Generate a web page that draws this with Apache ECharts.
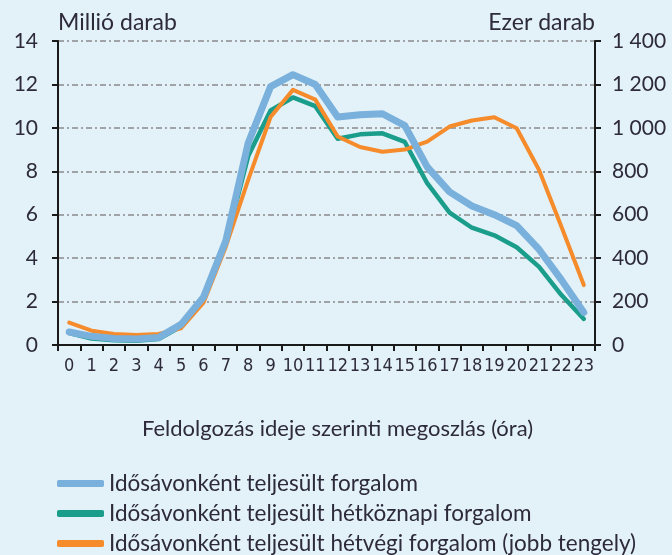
<!DOCTYPE html>
<html>
<head>
<meta charset="utf-8">
<script src="https://cdn.jsdelivr.net/npm/echarts@6/dist/echarts.min.js"></script>
<style>
  html, body { margin: 0; padding: 0; background: #e3f1f8; }
  #main { width: 672px; height: 555px; }
</style>
</head>
<body>
<div id="main"></div>
<script>
const hours = ['0', '1', '2', '3', '4', '5', '6', '7', '8', '9', '10', '11',
    '12', '13', '14', '15', '16', '17', '18', '19', '20', '21', '22', '23'];

// millió darab (bal tengely)
const total = [0.6, 0.4, 0.3, 0.28, 0.35, 0.95, 2.2, 4.8, 9.3, 11.9, 12.45, 12.0,
    10.5, 10.6, 10.65, 10.1, 8.2, 7.05, 6.4, 6.0, 5.5, 4.4, 3.0, 1.5];
const weekday = [0.55, 0.3, 0.22, 0.2, 0.28, 0.85, 2.1, 4.7, 8.7, 10.8, 11.4, 11.0,
    9.5, 9.7, 9.75, 9.35, 7.45, 6.1, 5.4, 5.05, 4.5, 3.6, 2.3, 1.2];
// ezer darab (jobb tengely)
const weekend = [103, 66, 51, 46, 51, 77, 195, 453, 760, 1050, 1175, 1130,
    960, 912, 890, 900, 937, 1006, 1034, 1049, 998, 806, 545, 276];

const names = ['Idősávonként teljesült forgalom',
    'Idősávonként teljesült hétköznapi forgalom',
    'Idősávonként teljesült hétvégi forgalom (jobb tengely)'];

let chart = echarts.init(document.getElementById('main'));
let textColor = '#2d2a3b';
let font = 'Lato';

let option = {
    backgroundColor: '#e3f1f8',
    animation: false,
    textStyle: { fontFamily: font, color: textColor },
    grid: { left: 58, right: 77, top: 41, bottom: 210, containLabel: false },
    legend: {
        orient: 'vertical',
        left: 57,
        top: 472,
        height: 100,
        padding: 0,
        itemWidth: 47,
        itemHeight: 7,
        itemGap: 7,
        textStyle: { fontSize: 22.5, color: textColor, fontFamily: font },
        data: names.map((n, i) => ({ name: n, icon: 'roundRect' }))
    },
    xAxis: {
        type: 'category',
        data: hours,
        boundaryGap: true,
        name: 'Feldolgozás ideje szerinti megoszlás (óra)',
        nameLocation: 'middle',
        nameGap: 73,
        nameTextStyle: { fontSize: 22, color: textColor, padding: [0, 0, 0, 22] },
        axisLine: { lineStyle: { color: '#1a1a1a', width: 2 } },
        axisTick: { show: true, length: 6, lineStyle: { color: '#1a1a1a', width: 2 } },
        axisLabel: { fontSize: 18, color: textColor, margin: 12, interval: 0, fontFamily: 'DejaVu Sans Condensed' }
    },
    yAxis: [{
        type: 'value',
        min: 0, max: 14, interval: 2,
        name: 'Millió darab',
        nameLocation: 'end',
        nameGap: 7,
        nameTextStyle: { fontSize: 23, color: textColor, align: 'left' },
        axisLine: { show: true, lineStyle: { color: '#1a1a1a', width: 2 } },
        axisTick: { show: true, length: 6, lineStyle: { color: '#1a1a1a', width: 2 } },
        axisLabel: { fontSize: 21, color: textColor, margin: 20 },
        splitLine: { show: true, lineStyle: { color: '#8a8a8a', width: 1.5, type: [6, 3, 2, 3] } }
    }, {
        type: 'value',
        min: 0, max: 1400, interval: 200,
        name: 'Ezer darab',
        nameLocation: 'end',
        nameGap: 7,
        nameTextStyle: { fontSize: 23, color: textColor, align: 'right' },
        axisLine: { show: true, lineStyle: { color: '#1a1a1a', width: 2 } },
        axisTick: { show: true, length: 6, lineStyle: { color: '#1a1a1a', width: 2 } },
        axisLabel: {
            fontSize: 21, color: textColor, margin: 17,
            formatter: v => String(v).replace(/\B(?=(\d{3})+(?!\d))/g, ' ')
        },
        splitLine: { show: false }
    }],
    series: [{
        name: names[0],
        type: 'line',
        data: total,
        yAxisIndex: 0,
        z: 4,
        symbol: 'none',
        color: '#79b0dc',
        lineStyle: { width: 7, color: '#79b0dc', cap: 'round', join: 'round' }
    }, {
        name: names[1],
        type: 'line',
        data: weekday,
        yAxisIndex: 0,
        z: 2,
        symbol: 'none',
        color: '#1a9e8b',
        lineStyle: { width: 4.5, color: '#1a9e8b', cap: 'round', join: 'round' }
    }, {
        name: names[2],
        type: 'line',
        data: weekend,
        yAxisIndex: 1,
        z: 3,
        symbol: 'none',
        color: '#f58b2b',
        lineStyle: { width: 4, color: '#f58b2b', cap: 'round', join: 'round' }
    }]
};

chart.setOption(option);
</script>
</body>
</html>
